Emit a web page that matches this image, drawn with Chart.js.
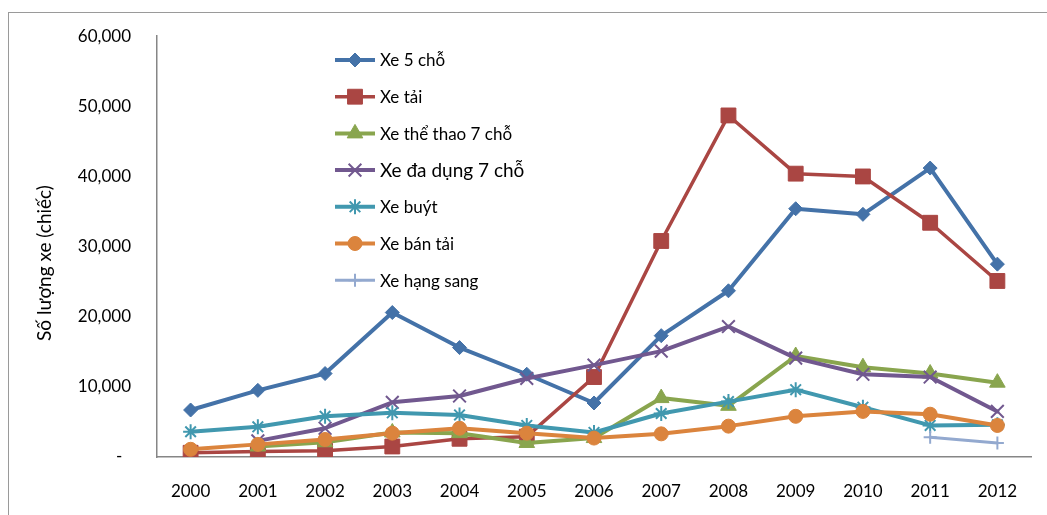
<!DOCTYPE html>
<html>
<head>
<meta charset="utf-8">
<script src="https://cdn.jsdelivr.net/npm/chart.js@4/dist/chart.umd.min.js"></script>
<style>
  html, body { margin: 0; padding: 0; background: #fff; }
  #wrap { width: 1047px; height: 515px; position: relative; }
</style>
</head>
<body>
<div id="wrap"><canvas id="c" width="1047" height="515"></canvas></div>
<script>
// Năm
const years = ['2000','2001','2002','2003','2004','2005','2006','2007','2008','2009','2010','2011','2012'];

// Số lượng xe theo từng loại (chiếc)
const xe5Cho      = [6700, 9500, 11900, 20600, 15600, 11800, 7700, 17300, 23700, 35400, 34600, 41200, 27500];
const xeTai       = [600, 800, 900, 1500, 2600, 2900, 11400, 30800, 48700, 40400, 40000, 33400, 25100];
const xeTheThao7  = [null, 1500, 2100, 3500, 3400, 2000, 2700, 8400, 7300, 14400, 12800, 11900, 10600];
const xeDaDung7   = [null, 2300, 4100, 7800, 8700, 11200, 13100, 15100, 18600, 14100, 11800, 11400, 6500];
const xeBuyt      = [3600, 4300, 5800, 6300, 6000, 4500, 3500, 6200, 7900, 9600, 7100, 4500, 4600];
const xeBanTai    = [1100, 1800, 2500, 3400, 4100, 3400, 2700, 3300, 4400, 5800, 6500, 6100, 4500];
const xeHangSang  = [null, null, null, null, null, null, null, null, null, null, null, 2800, 2000];

// Nhãn trục
const yTicks = [0, 10000, 20000, 30000, 40000, 50000, 60000];
const yTitle = 'Số lượng xe (chiếc)';

const FONT = 'Lato, "Open Sans", sans-serif';

function series(label, data, color, style, radius, width, extra) {
  return Object.assign({
    label, data,
    borderColor: color,
    backgroundColor: color,
    pointBackgroundColor: color,
    pointBorderColor: color,
    pointStyle: style,
    pointRadius: radius,
    pointHoverRadius: radius,
    pointBorderWidth: 1,
    borderWidth: width,
    borderJoinStyle: 'round',
    borderCapStyle: 'round',
    tension: 0,
    spanGaps: false
  }, extra || {});
}

const datasets = [
  series('Xe 5 chỗ', xe5Cho, '#4472A8', 'rectRot', 7, 4),
  series('Xe tải', xeTai, '#AA4643', 'rect', 10.5, 3.5),
  series('Xe thể thao 7 chỗ', xeTheThao7, '#89A54E', 'triangle', 9, 4),
  series('Xe đa dụng 7 chỗ', xeDaDung7, '#71588F', 'crossRot', 9, 4, { pointBorderWidth: 2 }),
  series('Xe buýt', xeBuyt, '#4198AF', 'star', 7.5, 4, { pointBorderWidth: 2 }),
  series('Xe bán tải', xeBanTai, '#DB843D', 'circle', 7, 4),
  series('Xe hạng sang', xeHangSang, '#93A9CF', 'cross', 6.5, 3, { pointBorderWidth: 2 })
];
// later series are painted above earlier ones
datasets.forEach((d, i) => { d.order = datasets.length - i; });

const legendFontSizes = [17, 17, 17, 19, 17, 17, 17];

// Khung ngoài của biểu đồ
const framePlugin = {
  id: 'frame',
  beforeDraw(chart) {
    const ctx = chart.ctx;
    ctx.save();
    ctx.fillStyle = '#fff';
    ctx.fillRect(0, 0, chart.width, chart.height);
    ctx.strokeStyle = '#9a9a9a';
    ctx.lineWidth = 1;
    ctx.strokeRect(8.5, 12.5, 1200, 1000);
    ctx.restore();
  }
};

// Tiêu đề trục tung
const yTitlePlugin = {
  id: 'yTitle',
  afterDraw(chart) {
    const ctx = chart.ctx;
    ctx.save();
    ctx.translate(45, 263);
    ctx.rotate(-Math.PI / 2);
    ctx.font = '19px ' + FONT;
    ctx.fillStyle = '#000';
    ctx.textAlign = 'center';
    ctx.textBaseline = 'middle';
    ctx.fillText(yTitle, 0, 0);
    ctx.restore();
  }
};

// Chú giải đặt trong vùng vẽ
const legendPlugin = {
  id: 'innerLegend',
  afterDraw(chart) {
    const ctx = chart.ctx;
    const x0 = 335, x1 = 375, tx = 380, y0 = 60, dy = 36.7;
    chart.data.datasets.forEach((ds, i) => {
      const y = y0 + i * dy;
      ctx.save();
      ctx.strokeStyle = ds.borderColor;
      ctx.lineWidth = ds.borderWidth;
      ctx.lineCap = 'butt';
      ctx.beginPath();
      ctx.moveTo(x0, y);
      ctx.lineTo(x1, y);
      ctx.stroke();
      ctx.fillStyle = ds.pointBackgroundColor;
      ctx.strokeStyle = ds.pointBorderColor;
      ctx.lineWidth = ds.pointBorderWidth;
      Chart.helpers.drawPoint(ctx, {
        pointStyle: ds.pointStyle,
        radius: ds.pointRadius,
        borderWidth: ds.pointBorderWidth,
        rotation: 0
      }, (x0 + x1) / 2, y);
      ctx.fillStyle = '#000';
      ctx.font = legendFontSizes[i] + 'px ' + FONT;
      ctx.textAlign = 'left';
      ctx.textBaseline = 'middle';
      ctx.fillText(ds.label, tx, y + 1);
      ctx.restore();
    });
  }
};

new Chart(document.getElementById('c'), {
  type: 'line',
  data: { labels: years, datasets },
  plugins: [framePlugin, yTitlePlugin, legendPlugin],
  options: {
    responsive: false,
    animation: false,
    devicePixelRatio: 1,
    layout: { padding: { top: 33, right: 16, left: 0, bottom: 0 } },
    plugins: {
      legend: { display: false },
      tooltip: { enabled: false },
      title: { display: false }
    },
    scales: {
      x: {
        type: 'category',
        offset: true,
        grid: { display: false, drawTicks: false },
        border: { display: true, color: '#868686', width: 1.5 },
        ticks: {
          color: '#000',
          font: { family: FONT, size: 17 },
          padding: 24,
          maxRotation: 0,
          autoSkip: false
        },
        afterFit(scale) { scale.height = 58; }
      },
      y: {
        min: 0,
        max: 60000,
        grid: { display: false, drawTicks: false },
        border: { display: true, color: '#868686', width: 1.5 },
        afterBuildTicks(scale) { scale.ticks = yTicks.map(v => ({ value: v })); },
        ticks: {
          color: '#000',
          font: { family: FONT, size: 17 },
          padding: 26,
          callback: v => v === 0 ? '-  ' : v.toLocaleString('en-US')
        },
        afterFit(scale) { scale.width = 157; }
      }
    }
  }
});
</script>
</body>
</html>
